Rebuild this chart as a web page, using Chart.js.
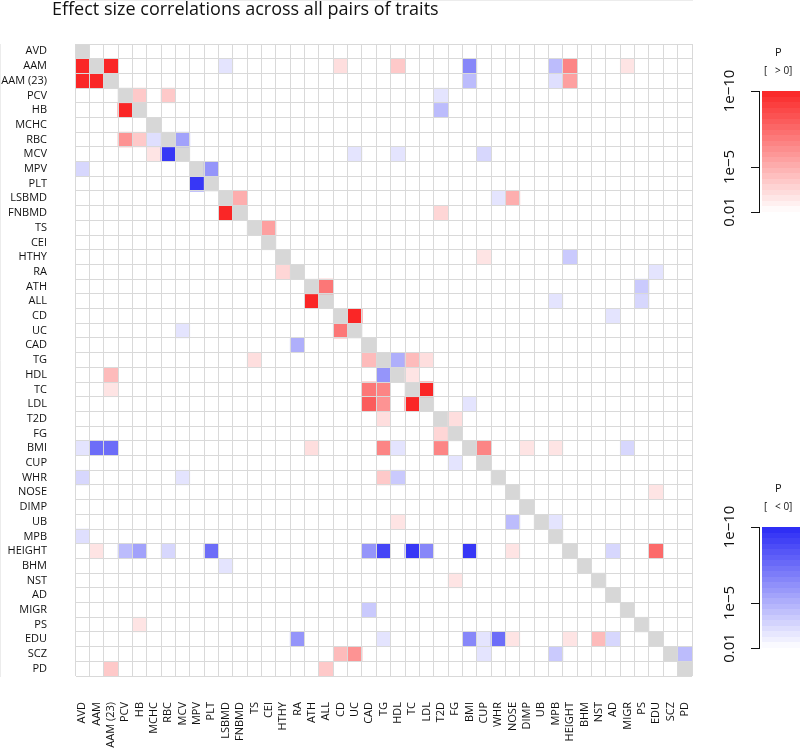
<!DOCTYPE html>
<html>
<head>
<meta charset="utf-8">
<script src="https://cdn.jsdelivr.net/npm/chart.js@4"></script>
<style>
  body { margin: 0; width: 800px; height: 752px; overflow: hidden; background: #fff; position: relative;
         font-family: "Open Sans", sans-serif; color: #111; }
  #chart { position: absolute; left: 0; top: 0; }
  .title { position: absolute; left: 52px; top: -4px; font-size: 18px; white-space: nowrap; }
  .abs { position: absolute; white-space: pre; }
  .rot { transform: translate(-50%, -50%) rotate(-90deg); font-size: 15px; }
</style>
</head>
<body>
<canvas id="chart" width="800" height="752"></canvas>
<div class="title">Effect size correlations across all pairs of traits</div>
<div id="keys"></div>
<script>
const traits = ["AVD", "AAM", "AAM (23)", "PCV", "HB", "MCHC", "RBC", "MCV", "MPV", "PLT",
  "LSBMD", "FNBMD", "TS", "CEI", "HTHY", "RA", "ATH", "ALL", "CD", "UC", "CAD", "TG", "HDL",
  "TC", "LDL", "T2D", "FG", "BMI", "CUP", "WHR", "NOSE", "DIMP", "UB", "MPB", "HEIGHT", "BHM",
  "NST", "AD", "MIGR", "PS", "EDU", "SCZ", "PD"];

// [row trait, column trait, signed -log10 P]  (+ : correlation > 0, - : < 0)
const cells = [
  ["AAM", "AVD", 10], ["AAM", "AAM (23)", 10], ["AAM", "LSBMD", -3], ["AAM", "CD", 3.2], ["AAM", "HDL", 4],
  ["AAM", "BMI", -6.5], ["AAM", "MPB", -4.5], ["AAM", "HEIGHT", 6.5], ["AAM", "MIGR", 3],
  ["AAM (23)", "AVD", 10], ["AAM (23)", "AAM", 10], ["AAM (23)", "BMI", -4.5], ["AAM (23)", "MPB", -3.2], ["AAM (23)", "HEIGHT", 5.5],
  ["PCV", "HB", 4], ["PCV", "RBC", 4], ["PCV", "T2D", -3],
  ["HB", "PCV", 10], ["HB", "T2D", -4.5],
  ["RBC", "PCV", 6], ["RBC", "HB", 4], ["RBC", "MCHC", -3.2], ["RBC", "MCV", -5.5],
  ["MCV", "MCHC", 3], ["MCV", "RBC", -9.5], ["MCV", "UC", -3], ["MCV", "HDL", -3], ["MCV", "CUP", -3.5],
  ["MPV", "AVD", -3.5], ["MPV", "PLT", -6],
  ["PLT", "MPV", -9.5],
  ["LSBMD", "FNBMD", 5], ["LSBMD", "WHR", -3], ["LSBMD", "NOSE", 5],
  ["FNBMD", "LSBMD", 10], ["FNBMD", "T2D", 3.5],
  ["TS", "CEI", 5.5],
  ["HTHY", "CUP", 3], ["HTHY", "HEIGHT", -4],
  ["RA", "HTHY", 3.5], ["RA", "EDU", -3],
  ["ATH", "ALL", 7], ["ATH", "PS", -4],
  ["ALL", "ATH", 10], ["ALL", "MPB", -3], ["ALL", "PS", -3.5],
  ["CD", "UC", 10], ["CD", "AD", -3],
  ["UC", "MCV", -3], ["UC", "CD", 7],
  ["CAD", "RA", -5],
  ["TG", "TS", 3.2], ["TG", "CAD", 4.5], ["TG", "HDL", -5], ["TG", "TC", 4.5], ["TG", "LDL", 3.2],
  ["HDL", "AAM (23)", 4.5], ["HDL", "TG", -6], ["HDL", "TC", 3],
  ["TC", "AAM (23)", 3], ["TC", "CAD", 7], ["TC", "TG", 6.5], ["TC", "LDL", 10],
  ["LDL", "CAD", 8], ["LDL", "TG", 6], ["LDL", "TC", 10], ["LDL", "BMI", -3],
  ["T2D", "TG", 3.2], ["T2D", "FG", 3.2],
  ["FG", "T2D", 3.5],
  ["BMI", "AVD", -3], ["BMI", "AAM", -7.5], ["BMI", "AAM (23)", -7.5], ["BMI", "ATH", 3.2], ["BMI", "TG", 6.5],
  ["BMI", "HDL", -3], ["BMI", "T2D", 6.5], ["BMI", "CUP", 6.5], ["BMI", "DIMP", 3], ["BMI", "MPB", 3], ["BMI", "MIGR", -3.5],
  ["CUP", "FG", -3],
  ["WHR", "AVD", -3.5], ["WHR", "MCV", -3], ["WHR", "TG", 4], ["WHR", "HDL", -4],
  ["NOSE", "EDU", 3],
  ["UB", "HDL", 3], ["UB", "NOSE", -4.5], ["UB", "MPB", -3],
  ["MPB", "AVD", -3.2],
  ["HEIGHT", "AAM", 3], ["HEIGHT", "PCV", -4.5], ["HEIGHT", "HB", -5.5], ["HEIGHT", "RBC", -3.5], ["HEIGHT", "PLT", -7.5],
  ["HEIGHT", "CAD", -6], ["HEIGHT", "TG", -9], ["HEIGHT", "TC", -9.5], ["HEIGHT", "LDL", -6.5], ["HEIGHT", "BMI", -9.5],
  ["HEIGHT", "NOSE", 3], ["HEIGHT", "AD", -3.5], ["HEIGHT", "EDU", 7.5],
  ["BHM", "LSBMD", -3],
  ["NST", "FG", 3],
  ["MIGR", "CAD", -4],
  ["PS", "HB", 3],
  ["EDU", "RA", -6], ["EDU", "TG", -3], ["EDU", "BMI", -6.5], ["EDU", "CUP", -3], ["EDU", "WHR", -7.5],
  ["EDU", "NOSE", 3], ["EDU", "HEIGHT", 3], ["EDU", "NST", 4.5], ["EDU", "AD", -3.5],
  ["SCZ", "CD", 4.5], ["SCZ", "UC", 6], ["SCZ", "CUP", -3], ["SCZ", "MPB", -4], ["SCZ", "PD", -4.5],
  ["PD", "AAM (23)", 4], ["PD", "ALL", 4]
];

const keyTicks = ["0.01", "1e\u22125", "1e\u221210"];
const keyTickLogP = [2, 5, 10];

const redFull = [250, 38, 38];
const blueFull = [42, 42, 245];
const diagGray = "#d7d7d7";
const gridCol = "#d9d9d9";

function cellColor(v) {
  const t = Math.min(Math.max((Math.abs(v) - 2) / 8, 0), 1);
  const c = v > 0 ? redFull : blueFull;
  return "rgb(" + c.map(k => Math.round(255 + (k - 255) * t)).join(",") + ")";
}

Chart.defaults.font.family = '"Open Sans", sans-serif';
Chart.defaults.color = "#111";

const n = traits.length;
const datasets = traits.map((rowName, i) => {
  const data = traits.map(() => null);
  const colors = traits.map(() => "rgba(0,0,0,0)");
  data[i] = [i, i + 1];
  colors[i] = diagGray;
  cells.filter(c => c[0] === rowName).forEach(c => {
    const j = traits.indexOf(c[1]);
    data[j] = [i, i + 1];
    colors[j] = cellColor(c[2]);
  });
  return { label: rowName, data: data, backgroundColor: colors, yAxisID: "yv" };
});

new Chart(document.getElementById("chart"), {
  type: "bar",
  data: { labels: traits, datasets: datasets },
  options: {
    responsive: false,
    animation: false,
    layout: { padding: { top: 44, right: 108, left: 0, bottom: 0 } },
    plugins: { legend: { display: false }, tooltip: { enabled: false } },
    datasets: { bar: { grouped: false, barPercentage: 1, categoryPercentage: 1, borderWidth: 0 } },
    scales: {
      x: {
        type: "category", offset: true,
        grid: { offset: true, color: gridCol, drawTicks: false, z: 1 },
        border: { color: gridCol },
        ticks: { autoSkip: false, minRotation: 90, maxRotation: 90, padding: 26, font: { size: 11 } },
        afterFit: s => { s.height = 76; }
      },
      y: {
        type: "category", labels: traits, offset: true,
        grid: { offset: true, color: gridCol, drawTicks: false, z: 1 },
        border: { color: gridCol },
        ticks: { autoSkip: false, padding: 28, font: { size: 11 } },
        afterFit: s => { s.width = 75; }
      },
      yv: { type: "linear", min: 0, max: n, reverse: true, display: false }
    }
  }
});

// colour keys
function addEl(parent, cls, css, text) {
  const d = document.createElement("div");
  d.className = cls;
  Object.assign(d.style, css);
  if (text) d.textContent = text;
  parent.appendChild(d);
  return d;
}

function makeKey(top, sign, head) {
  const keys = document.getElementById("keys");
  const barTop = top + 39, barH = 121;
  addEl(keys, "abs", { left: "775px", top: (top - 8) + "px", fontSize: "11px" }, "P");
  addEl(keys, "abs", { left: "764px", top: (top + 11) + "px", fontSize: "10px" }, head);
  const steps = 22, stops = [];
  for (let k = 0; k < steps; k++) {
    const v = sign * (10 - 8 * (k + 0.5) / steps);
    const c = cellColor(v);
    stops.push(c + " " + (100 * k / steps).toFixed(2) + "%", c + " " + (100 * (k + 1) / steps).toFixed(2) + "%");
  }
  addEl(keys, "abs", { left: "762px", top: barTop + "px", width: "45px", height: barH + "px",
    background: "linear-gradient(to bottom," + stops.join(",") + ")" });
  addEl(keys, "abs", { left: "759px", top: barTop + "px", width: "1px", height: barH + "px", background: "#111" });
  keyTickLogP.forEach((lp, k) => {
    const y = barTop + barH - (lp - 2) / 8 * barH;
    addEl(keys, "abs", { left: "751px", top: Math.round(y) + "px", width: "9px", height: "1px", background: "#111" });
    addEl(keys, "abs rot", { left: "728px", top: y + "px" }, keyTicks[k]);
  });
}
makeKey(52, 1, "[   > 0]");
makeKey(488, -1, "[   < 0]");
</script>
</body>
</html>
